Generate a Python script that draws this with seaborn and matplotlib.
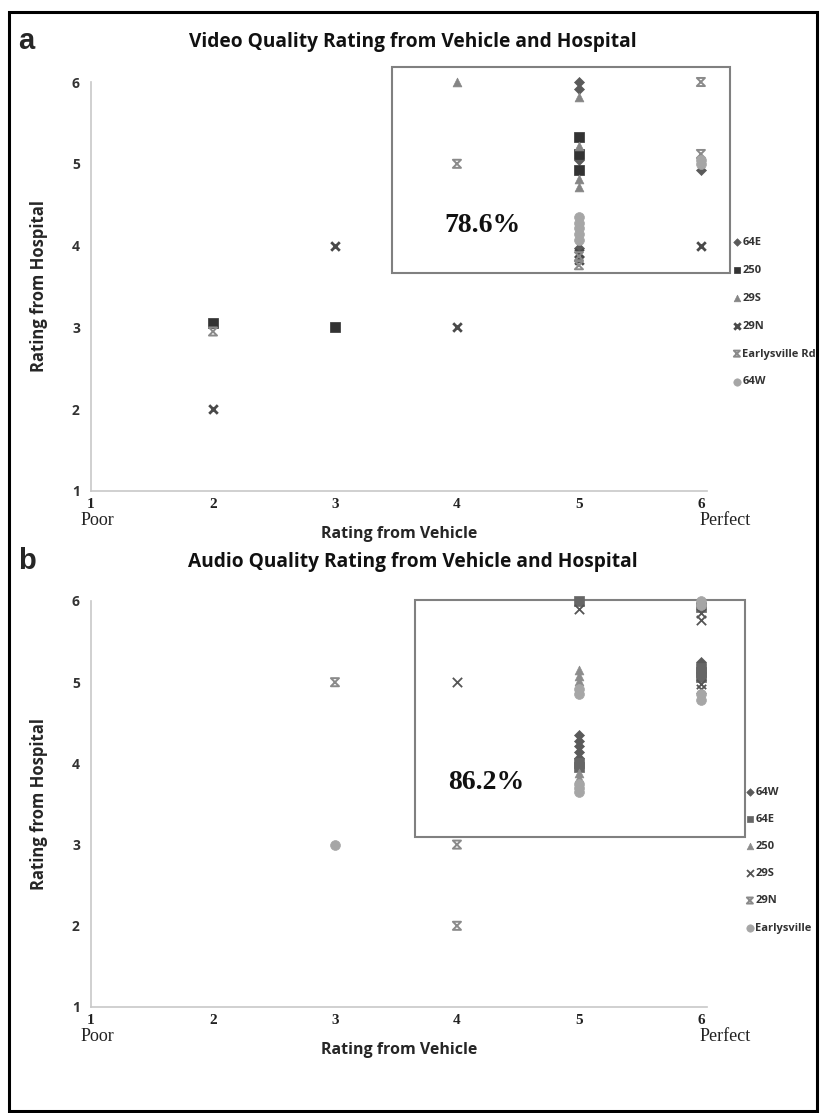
import numpy as np
import pandas as pd
import matplotlib
matplotlib.use("Agg")
import matplotlib.pyplot as plt
from matplotlib.path import Path
from matplotlib.patches import Rectangle
import matplotlib.transforms as mtrans
import seaborn as sns

# ---- data: panel a (video) ----
video_routes = ["64E", "250", "29S", "29N", "Earlysville Rd", "64W"]
video_x = {
    "64E": [5, 5, 5, 5, 6],
    "250": [2, 3, 5, 5, 5],
    "29S": [4, 5, 5, 5, 5],
    "29N": [2, 3, 4, 5, 5, 6],
    "Earlysville Rd": [2, 4, 5, 5, 6, 6],
    "64W": [5, 5, 5, 5, 5, 6, 6],
}
video_y = {
    "64E": [6.0, 5.92, 5.05, 3.97, 4.93],
    "250": [3.05, 3.0, 5.33, 5.12, 4.92],
    "29S": [6.0, 5.82, 5.22, 4.82, 4.72],
    "29N": [2.0, 4.0, 3.0, 3.91, 3.82, 4.0],
    "Earlysville Rd": [2.95, 5.0, 3.87, 3.76, 6.0, 5.12],
    "64W": [4.35, 4.28, 4.21, 4.14, 4.07, 5.05, 5.0],
}

# ---- data: panel b (audio) ----
audio_routes = ["64W", "64E", "250", "29S", "29N", "Earlysville"]
audio_x = {
    "64W": [5, 5, 5, 5, 5, 6],
    "64E": [5, 5, 5, 6, 6, 6, 6],
    "250": [5, 5, 5, 5, 5],
    "29S": [4, 5, 6, 6, 6, 6],
    "29N": [3, 4, 4],
    "Earlysville": [3, 5, 5, 5, 5, 5, 6, 6, 6, 6],
}
audio_y = {
    "64W": [4.35, 4.28, 4.21, 4.14, 4.07, 5.25],
    "64E": [6.0, 4.0, 3.95, 5.92, 5.18, 5.12, 5.06],
    "250": [5.15, 5.08, 5.01, 3.88, 3.82],
    "29S": [5.0, 5.9, 5.85, 5.77, 4.98, 4.92],
    "29N": [5.0, 3.0, 2.0],
    "Earlysville": [3.0, 4.92, 4.86, 3.75, 3.7, 3.65, 6.0, 5.95, 4.85, 4.78],
}

x_ticks = [1, 2, 3, 4, 5, 6]
y_ticks = [1, 2, 3, 4, 5, 6]
video_pct = "78.6%"
audio_pct = "86.2%"

# hourglass-like marker (Excel "star")
hourglass = Path([(-1, 1), (1, 1), (-1, -1), (1, -1), (-1, 1)],
                 [Path.MOVETO, Path.LINETO, Path.LINETO, Path.LINETO, Path.CLOSEPOLY])

diamond = dict(marker="D", s=26, color="#5a5a5a", edgecolor="#5a5a5a", linewidth=0.5)
square = dict(marker="s", s=42, color="#333333", edgecolor="#333333", linewidth=0.5)
square_b = dict(marker="s", s=42, color="#666666", edgecolor="#666666", linewidth=0.5)
tri = dict(marker="^", s=40, color="#858585", edgecolor="#858585", linewidth=0.5)
tri_b = dict(marker="^", s=40, color="#8c8c8c", edgecolor="#8c8c8c", linewidth=0.5)
xbold = dict(marker="x", s=38, color="#4a4a4a", linewidth=2.0)
xthin = dict(marker="x", s=45, color="#555555", linewidth=1.3)
hglass = dict(marker=hourglass, s=34, facecolor="none", edgecolor="#8a8a8a", linewidth=1.4)
circ = dict(marker="o", s=50, color="#a6a6a6", edgecolor="#a6a6a6", linewidth=0.5)

video_style = {"64E": diamond, "250": square, "29S": tri, "29N": xbold,
               "Earlysville Rd": hglass, "64W": circ}
audio_style = {"64W": diamond, "64E": square_b, "250": tri_b, "29S": xthin,
               "29N": hglass, "Earlysville": circ}

sns.set_style("white")
plt.rcParams["font.family"] = ["Open Sans", "DejaVu Sans"]

W, H = 824, 1113
fig = plt.figure(figsize=(W / 100, H / 100), dpi=100)

SERIF = ["Liberation Serif", "DejaVu Serif"]


def draw_panel(ax, routes, xs, ys, styles, title, letter, title_y, box, pct, pct_xy,
               leg_anchor, leg_space):
    for r in routes:
        df = pd.DataFrame({"x": xs[r], "y": ys[r]})
        sns.scatterplot(data=df, x="x", y="y", ax=ax, label=r, zorder=3, clip_on=False, **styles[r])
    ax.set_xlim(1, 6.05)
    ax.set_ylim(1, 6)
    ax.set_xticks(x_ticks)
    ax.set_yticks(y_ticks)
    ax.set_xticklabels([str(v) for v in x_ticks], fontfamily=SERIF, fontweight="bold",
                       fontsize=11, color="#222222")
    ax.set_yticklabels([str(v) for v in y_ticks], fontweight="bold", fontsize=10, color="#333333")
    ax.tick_params(length=0, pad=8)
    ax.tick_params(axis="x", pad=5)
    for s in ["top", "right"]:
        ax.spines[s].set_visible(False)
    for s in ["left", "bottom"]:
        ax.spines[s].set_color("#c8c8c8")
        ax.spines[s].set_linewidth(1.2)
    ax.set_xlabel("Rating from Vehicle", fontsize=11.5, fontweight="bold", labelpad=11)
    ax.set_ylabel("Rating from Hospital", fontsize=12, fontweight="bold")
    ax.yaxis.set_label_coords(-0.07, 0.5)
    ax.grid(False)

    tr = mtrans.blended_transform_factory(ax.transData, ax.transAxes)
    ax.text(1.05, -0.072, "Poor", transform=tr, ha="center", va="center",
            fontfamily=SERIF, fontsize=13, color="#222222")
    ax.text(6.2, -0.072, "Perfect", transform=tr, ha="center", va="center",
            fontfamily=SERIF, fontsize=13, color="#222222")

    x0, y0, x1, y1 = box
    ax.add_patch(Rectangle((x0, y0), x1 - x0, y1 - y0, fill=False, edgecolor="#808080",
                           linewidth=1.5, clip_on=False, zorder=2))
    ax.text(pct_xy[0], pct_xy[1], pct, ha="center", va="center", fontfamily=SERIF,
            fontweight="bold", fontsize=20, color="#111111")

    leg = ax.legend(loc="upper left", bbox_to_anchor=leg_anchor, bbox_transform=fig.transFigure,
                    frameon=False, fontsize=8, markerscale=0.75, handlelength=0.7,
                    handletextpad=0.15, labelspacing=leg_space, borderpad=0, borderaxespad=0)
    for t in leg.get_texts():
        t.set_fontweight("bold")
        t.set_color("#333333")

    fig.text(413 / W, 1 - title_y / H, title, ha="center", va="center",
             fontsize=13.8, fontweight="bold", color="#111111")
    fig.text(18 / W, 1 - (title_y - 1) / H, letter, ha="left", va="center",
             fontfamily=["Liberation Sans", "DejaVu Sans"], fontsize=21, fontweight="bold")


ax_a = fig.add_axes([91 / W, 1 - 491 / H, 616 / W, 409 / H])
draw_panel(ax_a, video_routes, video_x, video_y, video_style,
           "Video Quality Rating from Vehicle and Hospital", "a", 42,
           (3.47, 3.66, 6.24, 6.18), video_pct, (4.21, 4.25), (733 / W, 1 - 237 / H), 1.52)

ax_b = fig.add_axes([91 / W, 1 - 1007 / H, 616 / W, 406 / H])
draw_panel(ax_b, audio_routes, audio_x, audio_y, audio_style,
           "Audio Quality Rating from Vehicle and Hospital", "b", 562,
           (3.66, 3.09, 6.36, 6.01), audio_pct, (4.24, 3.76), (746 / W, 1 - 787 / H), 1.45)

# outer frame
fig.add_artist(Rectangle((9 / W, 2 / H), 808 / W, 1 - 14 / H, transform=fig.transFigure,
                         fill=False, edgecolor="black", linewidth=2.2))

fig.savefig("out.png", dpi=100)
